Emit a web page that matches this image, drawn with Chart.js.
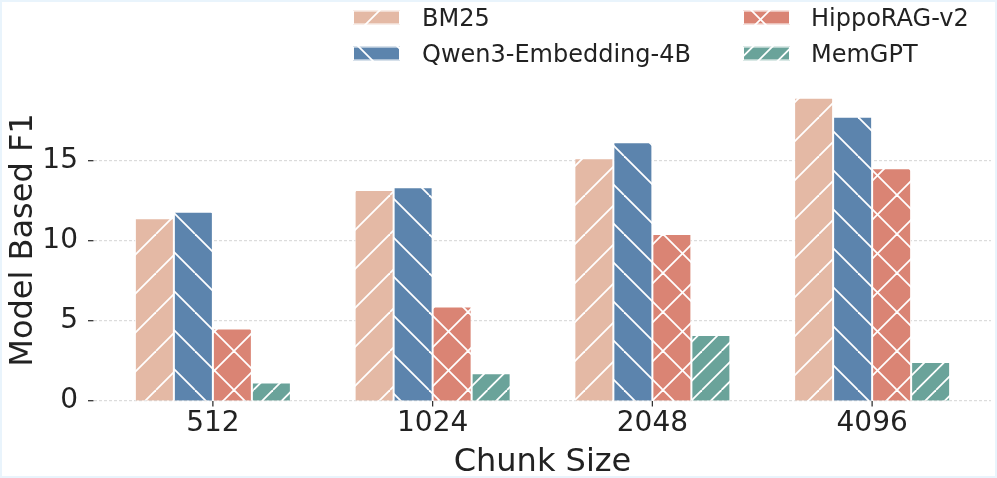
<!DOCTYPE html>
<html>
<head>
<meta charset="utf-8">
<script src="https://cdn.jsdelivr.net/npm/chart.js@4.4.1/dist/chart.umd.min.js"></script>
<style>
  html, body { margin: 0; padding: 0; background: #ffffff; }
  #wrap { position: relative; width: 997px; height: 478px; }
  #frame { position: absolute; left: 0; top: 0; width: 997px; height: 478px; box-sizing: border-box; border: 2px solid #e9f4fc; pointer-events: none; }
  canvas { display: block; }
</style>
</head>
<body>
<div id="wrap">
  <canvas id="c" width="997" height="478"></canvas>
  <div id="frame"></div>
</div>
<script>
// ---- data ----
const categories = ['512', '1024', '2048', '4096'];
const seriesNames = ['BM25', 'Qwen3-Embedding-4B', 'HippoRAG-v2', 'MemGPT'];
const bm25Values = [11.40, 13.17, 15.15, 18.94];
const qwenValues = [11.81, 13.34, 16.15, 17.75];
const hippoValues = [4.52, 5.88, 10.42, 14.52];
const memgptValues = [1.13, 1.71, 4.10, 2.42];
const yTickValues = [0, 5, 10, 15];
const xTitle = 'Chunk Size';
const yTitle = 'Model Based F1';

// ---- styles ----
const FONT = '"DejaVu Sans", "Liberation Sans", sans-serif';
const colors = ['#e4b9a5', '#5c84ad', '#da8474', '#6aa39a'];
const hatches = ['/', '\\', 'x', '//'];

function makePattern(color, kind) {
  const T = 39;
  const c = document.createElement('canvas');
  c.width = T; c.height = T;
  const g = c.getContext('2d');
  g.fillStyle = color;
  g.fillRect(0, 0, T, T);
  g.strokeStyle = '#ffffff';
  g.lineWidth = 1.8;
  const fwd = off => { g.beginPath(); g.moveTo(off, T); g.lineTo(off + T, 0); g.stroke(); };
  const back = off => { g.beginPath(); g.moveTo(off, 0); g.lineTo(off + T, T); g.stroke(); };
  if (kind === '/') { [-T, 0, T].forEach(fwd); }
  else if (kind === '\\') { [-T, 0, T].forEach(back); }
  else if (kind === 'x') { [-T, 0, T].forEach(fwd); [-T, 0, T].forEach(back); }
  else if (kind === '//') { [-T, -T / 2, 0, T / 2, T].forEach(fwd); }
  return g.createPattern(c, 'repeat');
}

const ctx0 = document.getElementById('c').getContext('2d');
const patterns = colors.map((col, i) => makePattern(col, hatches[i]));
const seriesValues = [bm25Values, qwenValues, hippoValues, memgptValues];

const datasets = seriesNames.map((name, i) => ({
  label: name,
  data: seriesValues[i],
  backgroundColor: patterns[i],
  borderColor: '#ffffff',
  borderWidth: 1,
  borderSkipped: 'start',
  barPercentage: 1.0,
  categoryPercentage: 0.71
}));

const decor = {
  id: 'decor',
  beforeDatasetsDraw(chart) {
    const { ctx } = chart;
    const ys = chart.scales.y, xs = chart.scales.x;
    ctx.save();
    // horizontal dashed grid lines
    ctx.strokeStyle = '#d4d4d4';
    ctx.lineWidth = 1;
    ctx.setLineDash([3, 2]);
    yTickValues.forEach(v => {
      const y = ys.getPixelForValue(v);
      ctx.beginPath(); ctx.moveTo(94, y); ctx.lineTo(991, y); ctx.stroke();
    });
    ctx.setLineDash([]);
    // y tick marks
    ctx.strokeStyle = '#333333';
    ctx.lineWidth = 1.3;
    yTickValues.forEach(v => {
      const y = ys.getPixelForValue(v);
      ctx.beginPath(); ctx.moveTo(88, y); ctx.lineTo(93.5, y); ctx.stroke();
    });
    // x tick marks
    categories.forEach((c, i) => {
      const x = xs.getPixelForValue(i);
      ctx.beginPath(); ctx.moveTo(x, 401); ctx.lineTo(x, 406.5); ctx.stroke();
    });
    ctx.restore();
  },
  afterDraw(chart) {
    const { ctx } = chart;
    ctx.save();
    ctx.fillStyle = '#222222';
    // axis titles
    ctx.font = '32px ' + FONT;
    ctx.textAlign = 'center';
    ctx.textBaseline = 'alphabetic';
    const xs = chart.scales.x;
    ctx.fillText(xTitle, (xs.left + xs.right) / 2, 470.5);
    ctx.save();
    ctx.translate(31.5, 240);
    ctx.rotate(-Math.PI / 2);
    ctx.fillText(yTitle, 0, 0);
    ctx.restore();
    // legend (2 columns, column-major)
    const cols = [{ sx: 353, tx: 422 }, { sx: 743, tx: 811 }];
    const rows = [{ top: 10.5, base: 26 }, { top: 46.5, base: 62 }];
    ctx.font = '24px ' + FONT;
    ctx.textAlign = 'left';
    chart.data.datasets.forEach((ds, i) => {
      const col = cols[Math.floor(i / 2)], row = rows[i % 2];
      ctx.fillStyle = ds.backgroundColor;
      ctx.fillRect(col.sx, row.top, 47, 14);
      ctx.strokeStyle = '#ffffff';
      ctx.lineWidth = 1;
      ctx.strokeRect(col.sx + 0.5, row.top + 0.5, 46, 13);
      ctx.fillStyle = '#222222';
      ctx.fillText(ds.label, col.tx, row.base);
    });
    ctx.restore();
  }
};

new Chart(ctx0, {
  type: 'bar',
  data: { labels: categories, datasets },
  options: {
    responsive: false,
    animation: false,
    events: [],
    layout: { padding: { top: 83.4, right: 15, left: 0, bottom: 0 } },
    plugins: { legend: { display: false }, tooltip: { enabled: false }, title: { display: false } },
    scales: {
      x: {
        type: 'category',
        offset: true,
        grid: { display: false, drawTicks: false },
        border: { display: false },
        ticks: { color: '#222222', font: { family: FONT, size: 28 }, padding: 6, maxRotation: 0 },
        afterFit: s => { s.height = 77.3; }
      },
      y: {
        min: 0,
        max: 19.83,
        grid: { display: false, drawTicks: false },
        border: { display: false },
        ticks: { color: '#222222', font: { family: FONT, size: 28 }, padding: 25 },
        afterBuildTicks: s => { s.ticks = yTickValues.map(v => ({ value: v })); },
        afterFit: s => { s.width = 103; }
      }
    }
  },
  plugins: [decor]
});
</script>
</body>
</html>
